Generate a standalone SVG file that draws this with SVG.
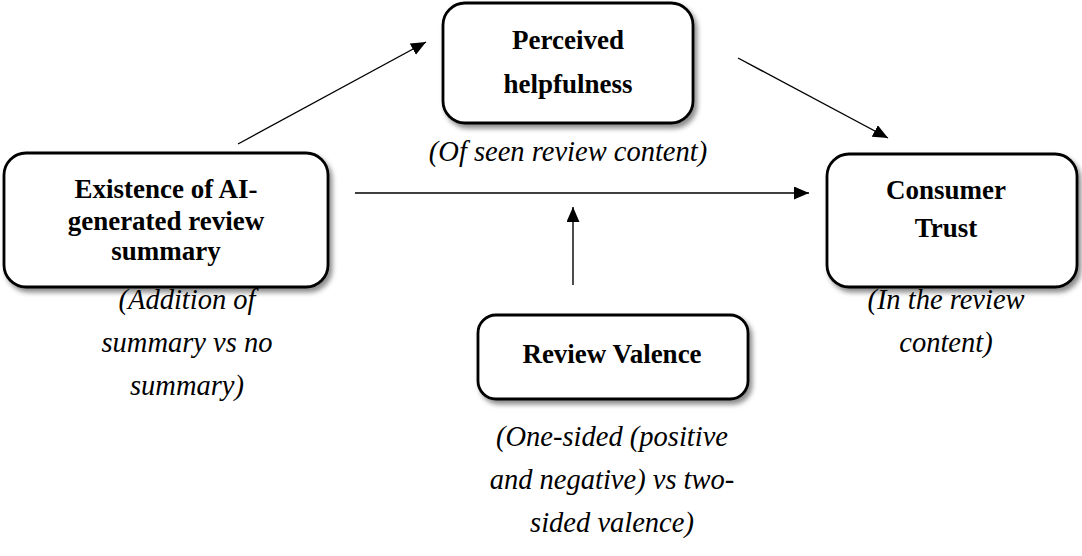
<svg xmlns="http://www.w3.org/2000/svg" width="1082" height="556" viewBox="0 0 1082 556">
  <style>
    .box { fill: #ffffff; stroke: #000000; stroke-width: 2.8; filter: url(#shadow); }
    .b { font-family: 'Liberation Serif', serif; font-weight: bold; font-size: 27px; fill: #000; text-anchor: middle; }
    .i { font-family: 'Liberation Serif', serif; font-style: italic; font-size: 28.5px; fill: #000; text-anchor: middle; }
    .edge { stroke: #000; stroke-width: 1.4; fill: none; marker-end: url(#arrow); }
  </style>
  <defs>
    <filter id="shadow" x="-10%" y="-10%" width="125%" height="130%">
      <feDropShadow dx="3" dy="4" stdDeviation="2.5" flood-color="#000" flood-opacity="0.45"/>
    </filter>
    <marker id="arrow" markerWidth="15" markerHeight="13" refX="15" refY="6.5" orient="auto" markerUnits="userSpaceOnUse">
      <path d="M0,0 L15,6.5 L0,13 Z" fill="#000"/>
    </marker>
  </defs>

  <g id="connectors">
    <line class="edge" x1="238" y1="144" x2="426" y2="42"/>
    <line class="edge" x1="738" y1="58" x2="888" y2="138"/>
    <line class="edge" x1="355" y1="193" x2="809" y2="193"/>
    <line class="edge" x1="573" y1="285" x2="573" y2="207"/>
  </g>

  <g id="node-existence">
    <rect class="box" x="4" y="153" width="324" height="134" rx="22"/>
    <text class="b" x="166" y="198">Existence of AI-</text>
    <text class="b" x="166" y="230">generated review</text>
    <text class="b" x="166" y="260">summary</text>
    <text class="i" x="187" y="309">(Addition of</text>
    <text class="i" x="187" y="352">summary vs no</text>
    <text class="i" x="187" y="395">summary)</text>
  </g>

  <g id="node-helpfulness">
    <rect class="box" x="443" y="3" width="250" height="120" rx="22"/>
    <text class="b" x="568" y="49">Perceived</text>
    <text class="b" x="568" y="93">helpfulness</text>
    <text class="i" x="568" y="161">(Of seen review content)</text>
  </g>

  <g id="node-trust">
    <rect class="box" x="827" y="154" width="250" height="133" rx="22"/>
    <text class="b" x="946" y="199">Consumer</text>
    <text class="b" x="946" y="237">Trust</text>
    <text class="i" x="946" y="309">(In the review</text>
    <text class="i" x="946" y="352">content)</text>
  </g>

  <g id="node-valence">
    <rect class="box" x="478" y="315" width="270" height="84" rx="18"/>
    <text class="b" x="612" y="363">Review Valence</text>
    <text class="i" x="612" y="446">(One-sided (positive</text>
    <text class="i" x="612" y="489">and negative) vs two-</text>
    <text class="i" x="612" y="532">sided valence)</text>
  </g>
</svg>
